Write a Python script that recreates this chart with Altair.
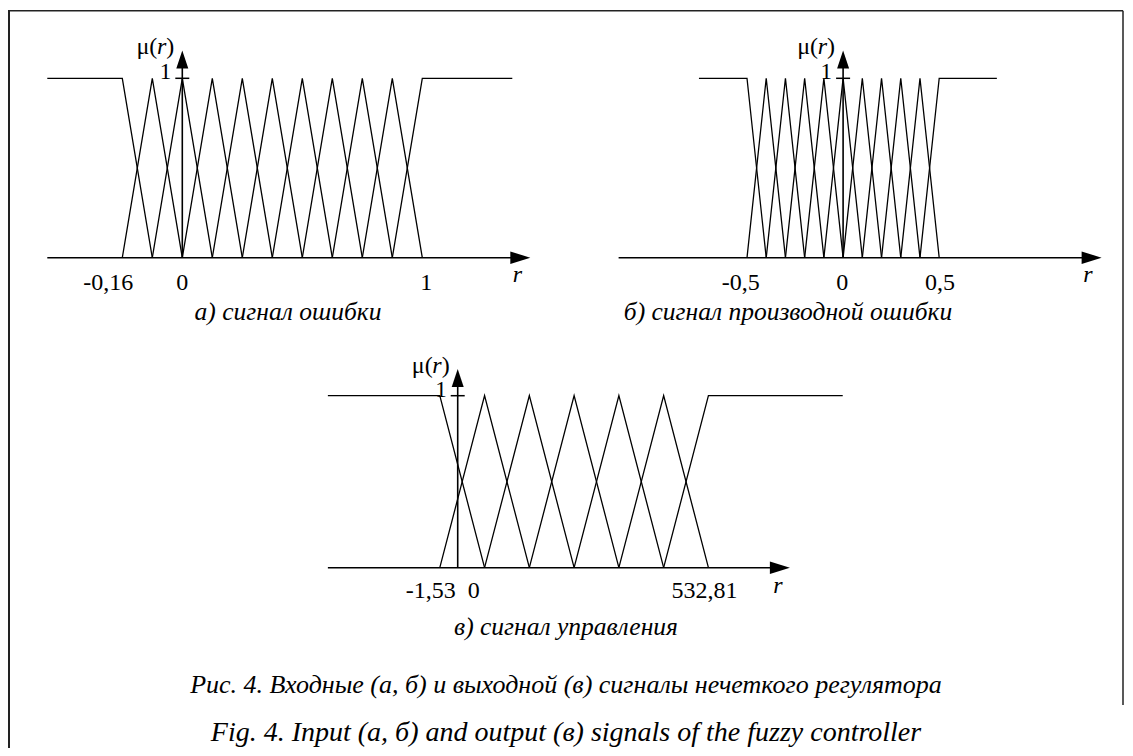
import altair as alt
import pandas as pd

W, H = 1117, 740          # whole chart (autosize none, padding 0)
M = 8                     # page margin
FONT = "Liberation Serif"

# ---------------- data (diagram units = breakpoint index) ----------------
# а) error signal: 9 triangles + 2 shoulders
A_PEAKS = [1, 2, 3, 4, 5, 6, 7, 8, 9]
A_LEFT = [-2.5, 0, 1]          # left shoulder: flat start, knee, foot
A_RIGHT = [9, 10, 13]          # right shoulder: foot, knee, flat end
A_AXIS = [-2.5, 13.6]          # r-axis start, arrow tip
A_YAXIS = 2                    # position of the mu axis
A_TICK_POS = [-0.47, 2, 10.13]
A_TICK_LBL = ["-0,16", "0", "1"]
A_R_POS = 13.17

# б) derivative of error: 9 triangles + 2 shoulders
B_PEAKS = [1, 2, 3, 4, 5, 6, 7, 8, 9]
B_LEFT = [-2.5, 0, 1]
B_RIGHT = [9, 10, 13]
B_AXIS = [-6.68, 18.45]
B_YAXIS = 5
B_TICK_POS = [-0.32, 4.96, 10.04]
B_TICK_LBL = ["-0,5", "0", "0,5"]
B_R_POS = 17.74

# в) control signal: 5 triangles + 2 shoulders
C_PEAKS = [1, 2, 3, 4, 5]
C_LEFT = [-2.5, 0, 1]
C_RIGHT = [5, 6, 9]
C_AXIS = [-2.5, 7.82]
C_YAXIS = 0.4
C_TICK_POS = [-0.2, 0.76, 5.91]
C_TICK_LBL = ["-1,53", "0", "532,81"]
C_R_POS = 7.55

MU_TIP = 1.155                 # top of the mu arrow

CAP_A = "а) сигнал ошибки"
CAP_B = "б) сигнал производной ошибки"
CAP_C = "в) сигнал управления"
CAP_RU = "Рис. 4. Входные (а, б) и выходной (в) сигналы нечеткого регулятора"
CAP_EN = "Fig. 4. Input (а, б) and output (в) signals of the fuzzy controller"


def term_table(peaks, left, right):
    rows = []
    for i, (x, m) in enumerate(zip(left, [1, 1, 0])):
        rows.append(dict(term="L", o=i, x=x, mu=m))
    for k, p in enumerate(peaks):
        for i, (x, m) in enumerate([(p - 1, 0), (p, 1), (p + 1, 0)]):
            rows.append(dict(term=f"T{k}", o=i, x=x, mu=m))
    for i, (x, m) in enumerate(zip(right, [0, 1, 1])):
        rows.append(dict(term="R", o=i, x=x, mu=m))
    return pd.DataFrame(rows)


def panel(peaks, left, right, axis, yaxis, tick_pos, tick_lbl, r_pos,
          X0, S, Yb, Hs, tick_dy, r_dy):
    # layout: image pixel = X0 + S*x ; image pixel = Yb - Hs*mu
    xdom = [-(X0 - M) / S, (W - (X0 - M)) / S]
    ydom = [(Yb - M - H) / Hs, (Yb - M) / Hs]
    xs = alt.Scale(domain=xdom, nice=False, zero=False)
    ys = alt.Scale(domain=ydom, nice=False, zero=False)

    def X(f):
        return alt.X(f, type="quantitative", scale=xs, axis=None)

    def Y(f):
        return alt.Y(f, type="quantitative", scale=ys, axis=None)

    terms = term_table(peaks, left, right)
    lines = alt.Chart(terms).mark_line(color="black", strokeWidth=1.3).encode(
        x=X("x"), y=Y("mu"), detail="term:N", order="o:Q")

    axes_df = pd.DataFrame({
        "x": [axis[0], yaxis],
        "x2": [axis[1] - 12 / S, yaxis],
        "y": [0, 0],
        "y2": [0, MU_TIP - 10 / Hs],
    })
    rules = alt.Chart(axes_df).mark_rule(color="black", strokeWidth=1.6).encode(
        x=X("x"), x2="x2", y=Y("y"), y2="y2")

    tip_r = pd.DataFrame({"x": [axis[1]], "y": [0]})
    arrow_r = alt.Chart(tip_r).mark_point(
        shape="M0,0L-4,-1.26L-4,1.26Z", size=100, filled=True,
        color="black", opacity=1, strokeWidth=0).encode(x=X("x"), y=Y("y"))

    tip_mu = pd.DataFrame({"x": [yaxis], "y": [MU_TIP]})
    arrow_mu = alt.Chart(tip_mu).mark_point(
        shape="M0,0L-1.2,3.6L1.2,3.6Z", size=100, filled=True,
        color="black", opacity=1, strokeWidth=0).encode(x=X("x"), y=Y("y"))

    one_df = pd.DataFrame({"x": [yaxis], "y": [1], "t": ["1"]})
    one_tick = alt.Chart(one_df).mark_point(
        shape="M-1.4,0L1.4,0", size=100, filled=False,
        color="black", opacity=1, strokeWidth=1.5).encode(x=X("x"), y=Y("y"))
    one_lbl = alt.Chart(one_df).mark_text(
        font=FONT, fontSize=23, align="right", baseline="alphabetic",
        dx=-11, dy=1, color="black").encode(x=X("x"), y=Y("y"), text="t:N")

    ticks = pd.DataFrame({"x": tick_pos, "y": [0] * len(tick_pos), "t": tick_lbl})
    tick_text = alt.Chart(ticks).mark_text(
        font=FONT, fontSize=24, align="center", baseline="alphabetic",
        dy=tick_dy, color="black").encode(x=X("x"), y=Y("y"), text="t:N")

    r_df = pd.DataFrame({"x": [r_pos], "y": [0], "t": ["r"]})
    r_text = alt.Chart(r_df).mark_text(
        font=FONT, fontSize=24, fontStyle="italic", align="center",
        baseline="alphabetic", dy=r_dy, color="black").encode(
        x=X("x"), y=Y("y"), text="t:N")

    mu_df = pd.DataFrame({"x": [yaxis], "y": [MU_TIP], "a": ["μ("], "b": ["r"], "c": [")"]})
    mu_a = alt.Chart(mu_df).mark_text(
        font=FONT, fontSize=24, align="right", baseline="alphabetic",
        dx=-25, dy=4, color="black").encode(x=X("x"), y=Y("y"), text="a:N")
    mu_b = alt.Chart(mu_df).mark_text(
        font=FONT, fontSize=24, fontStyle="italic", align="right",
        baseline="alphabetic", dx=-16, dy=4, color="black").encode(
        x=X("x"), y=Y("y"), text="b:N")
    mu_c = alt.Chart(mu_df).mark_text(
        font=FONT, fontSize=24, align="right", baseline="alphabetic",
        dx=-8, dy=4, color="black").encode(x=X("x"), y=Y("y"), text="c:N")

    return alt.layer(lines, rules, arrow_r, arrow_mu, one_tick, one_lbl,
                     tick_text, r_text, mu_a, mu_b, mu_c)


pa = panel(A_PEAKS, A_LEFT, A_RIGHT, A_AXIS, A_YAXIS, A_TICK_POS, A_TICK_LBL,
           A_R_POS, X0=122.3, S=30.0, Yb=257.7, Hs=179.4, tick_dy=32, r_dy=24.5)
pb = panel(B_PEAKS, B_LEFT, B_RIGHT, B_AXIS, B_YAXIS, B_TICK_POS, B_TICK_LBL,
           B_R_POS, X0=747.0, S=19.22, Yb=257.7, Hs=179.4, tick_dy=32, r_dy=24.5)
pc = panel(C_PEAKS, C_LEFT, C_RIGHT, C_AXIS, C_YAXIS, C_TICK_POS, C_TICK_LBL,
           C_R_POS, X0=439.8, S=44.77, Yb=567.7, Hs=172.0, tick_dy=30.5, r_dy=25.5)

one = pd.DataFrame({"k": [0]})


def caption(text, cx, by, size=25.5):
    return alt.Chart(one).mark_text(
        font=FONT, fontSize=size, fontStyle="italic", align="center",
        baseline="alphabetic", color="black").encode(
        x=alt.value(cx - M), y=alt.value(by - M), text=alt.value(text))


def frame(x1, y1, x2, y2, sw):
    return alt.Chart(one).mark_rule(color="#222222", strokeWidth=sw).encode(
        x=alt.value(x1), y=alt.value(y1), x2=alt.value(x2), y2=alt.value(y2))


decor = [
    frame(0, 2.7, 1115, 2.7, 1.5),
    frame(1, 2.7, 1, H, 2),
    frame(1115, 2.7, 1115, 697, 1.5),
    caption(CAP_A, 288, 320),
    caption(CAP_B, 788, 320),
    caption(CAP_C, 566, 635),
    caption(CAP_RU, 566, 693, size=26),
    caption(CAP_EN, 566, 741, size=28),
]

chart = alt.layer(pa, pb, pc, *decor).resolve_scale(
    x="independent", y="independent"
).properties(
    width=W, height=H, padding=0,
    autosize=alt.AutoSizeParams(type="none"),
    background="white",
).configure_view(stroke=None)

chart.save("out.html", embed_options={"renderer": "svg", "actions": False})
